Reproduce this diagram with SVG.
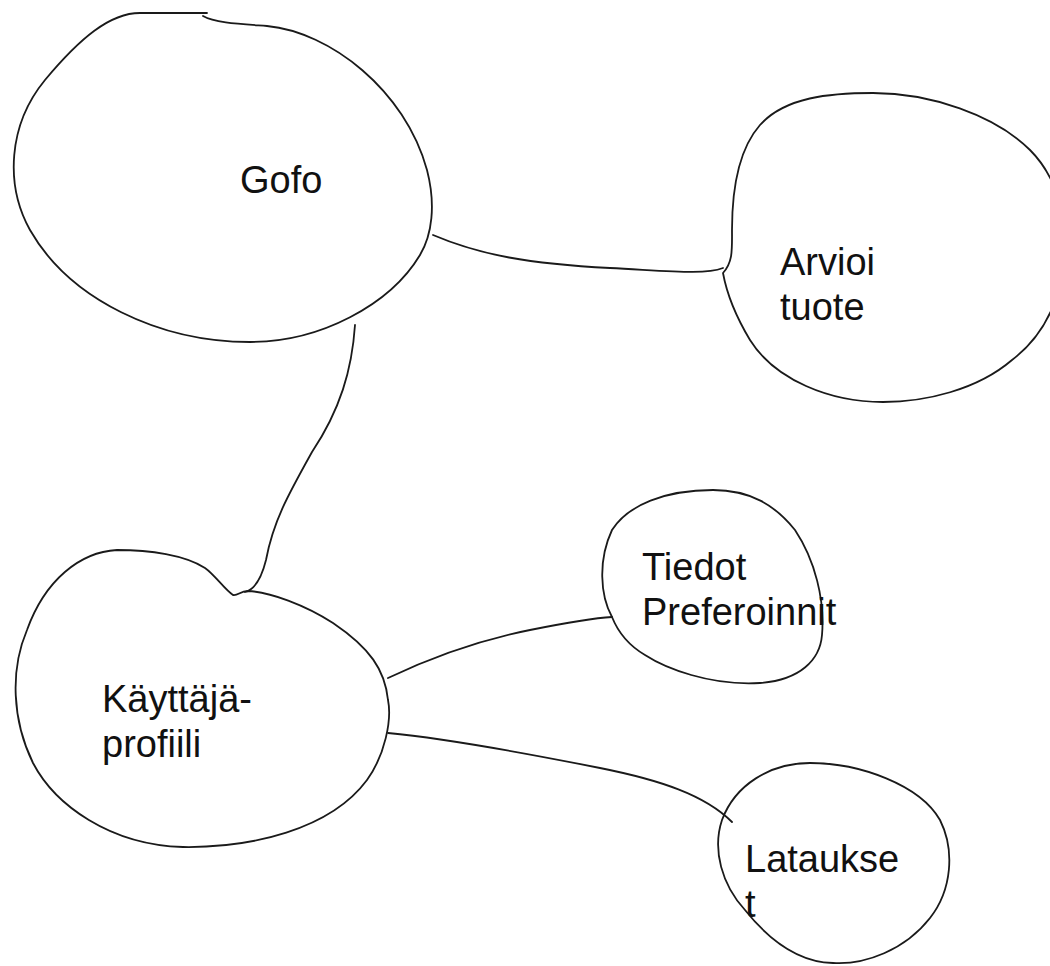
<svg xmlns="http://www.w3.org/2000/svg" width="1050" height="966" viewBox="0 0 1050 966">
<style>
.b{fill:none;stroke:#1a1a1a;stroke-width:1.8;stroke-linecap:round;stroke-linejoin:round}
.t{font-family:"Liberation Sans",Arial,sans-serif;font-size:38px;fill:#111}
</style>
<rect width="1050" height="966" fill="#fff"/>
<g id="connectors">
<path class="b" d="M433,235 C480,255 530,264 610,268 C670,271 705,275 723,268"/>
<path class="b" d="M355,325 C352,370 340,410 312,452 C288,495 273,522 266,560 C261,580 253,590 245,592"/>
<path class="b" d="M388,678 C430,658 480,640 530,630 C570,622 595,618 612,617"/>
<path class="b" d="M388,733 C440,738 520,752 600,768 C660,780 705,795 732,822"/>
</g>
<g id="gofo">
<path class="b" d="M203,16 C215,23 240,24 267,26 C330,32 405,90 427,170 C436,205 432,235 420,255 C390,305 320,342 250,342 C160,342 70,300 30,230 C5,185 8,125 45,80 C80,38 110,13 140,13 L207,13"/>
<text class="t" x="240" y="193">Gofo</text>
</g>
<g id="arvioi">
<path class="b" d="M723,273 C733,262 732,250 732,230 C732,190 738,150 760,125 C785,97 830,93 873,93 C930,93 995,115 1030,150 C1058,178 1068,220 1064,260 C1060,300 1045,335 1012,360 C977,390 925,402 883,402 C830,402 775,380 750,340 C735,315 727,295 723,273 Z"/>
<text class="t" x="780" y="275">Arvioi</text>
<text class="t" x="780" y="320">tuote</text>
</g>
<g id="kayttaja">
<path class="b" d="M233,595 C225,590 215,575 205,568 C185,555 150,550 117,550 C80,552 45,580 27,630 C10,670 12,720 33,763 C55,805 110,845 183,847 C250,848 330,830 367,780 C385,755 392,720 388,700 C385,670 370,648 333,623 C305,605 270,592 248,591 C240,591 238,596 233,595 Z"/>
<text class="t" x="102" y="712">Käyttäjä-</text>
<text class="t" x="102" y="757">profiili</text>
</g>
<g id="tiedot">
<path class="b" d="M612,617 C600,595 598,560 612,530 C628,505 665,490 713,490 C750,490 775,505 795,530 C815,560 825,600 822,635 C820,660 800,680 760,683 C710,686 665,668 645,655 C628,645 618,632 612,617 Z"/>
<text class="t" x="642" y="580">Tiedot</text>
<text class="t" x="642" y="625">Preferoinnit</text>
</g>
<g id="lataukset">
<path class="b" d="M810,763 C860,763 920,785 940,820 C955,850 952,890 930,918 C905,950 865,965 833,963 C795,962 765,935 745,910 C722,885 712,850 722,820 C735,785 770,763 810,763 Z"/>
<text class="t" x="745" y="872">Lataukse</text>
<text class="t" x="745" y="917">t</text>
</g>
</svg>
